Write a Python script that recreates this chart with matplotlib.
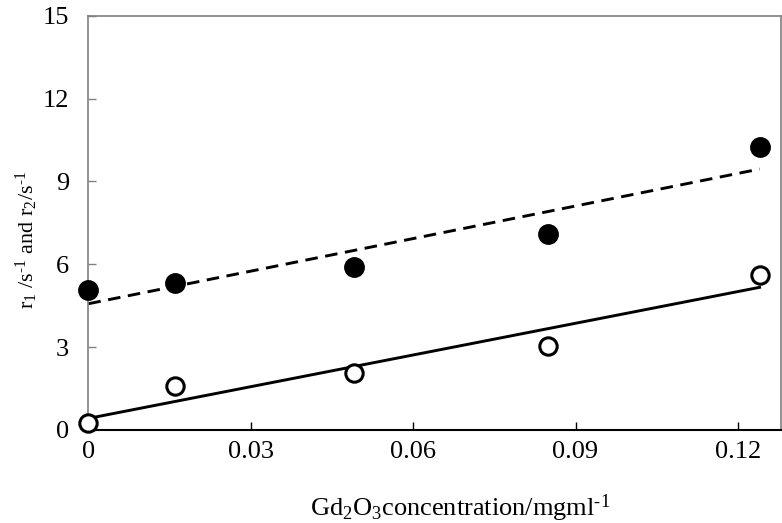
import matplotlib
matplotlib.use("Agg")
import matplotlib.pyplot as plt
import numpy as np

# Gd2O3 concentration (mg/ml) and relaxation rates (1/s)
conc = [0.0, 0.016, 0.049, 0.085, 0.124]
r2 = [5.07, 5.33, 5.91, 7.08, 10.23]   # filled circles
r1 = [0.26, 1.59, 2.07, 3.04, 5.61]    # open circles

x_ticks = [0, 0.03, 0.06, 0.09, 0.12]
x_tick_labels = ["0", "0.03", "0.06", "0.09", "0.12"]
y_ticks = [0, 3, 6, 9, 12, 15]

plt.rcParams["font.family"] = ["Liberation Serif", "DejaVu Serif"]
plt.rcParams["mathtext.fontset"] = "custom"
plt.rcParams["mathtext.rm"] = "Liberation Serif"
plt.rcParams["mathtext.it"] = "Liberation Serif:italic"

fig = plt.figure(figsize=(7.82, 5.23), dpi=100)
ax = fig.add_axes([0.113, 0.178, 0.886, 0.792])

x = np.array(conc)
xfit = np.array([min(conc), max(conc)])
p2 = np.polyfit(x, r2, 1)
p1 = np.polyfit(x, r1, 1)

ax.plot(xfit, np.polyval(p2, xfit), color="black", lw=2.1, ls=(0, (4.3, 2.6)), zorder=2)
ax.plot(xfit, np.polyval(p1, xfit), color="black", lw=2.1, zorder=2)

ax.plot(conc, r2, "o", ms=13.5, mfc="black", mec="black", mew=1.5, zorder=3, clip_on=False)
ax.plot(conc, r1, "o", ms=12.5, mfc="white", mec="black", mew=2.2, zorder=3, clip_on=False)

ax.set_xlim(0, 0.128)
ax.set_ylim(0, 15)
ax.set_xticks(x_ticks)
ax.set_xticklabels(x_tick_labels)
ax.set_yticks(y_ticks)

ax.tick_params(axis="x", direction="in", length=6, width=1, pad=8, labelsize=19, color="black")
ax.tick_params(axis="y", direction="in", length=6, width=1, pad=14, labelsize=19, color="#808080")

for side in ["left", "top", "right"]:
    ax.spines[side].set_color("#808080")
    ax.spines[side].set_linewidth(1.2)
ax.spines["bottom"].set_color("black")
ax.spines["bottom"].set_linewidth(1.5)

ax.set_xlabel(r"Gd$_2$O$_3$concentration/mgml$^{\text{-1}}$", fontsize=19)
ax.xaxis.set_label_coords((460 - 88.5) / 693, -(493 - 430) / 414.5)
ax.set_ylabel(r"r$_1$ /s$^{\text{-1}}$ and r$_2$/s$^{\text{-1}}$", fontsize=16)
ax.yaxis.set_label_coords(-(88.5 - 40) / 693, (430 - 240) / 414.5)

fig.savefig("out.png", dpi=100)
